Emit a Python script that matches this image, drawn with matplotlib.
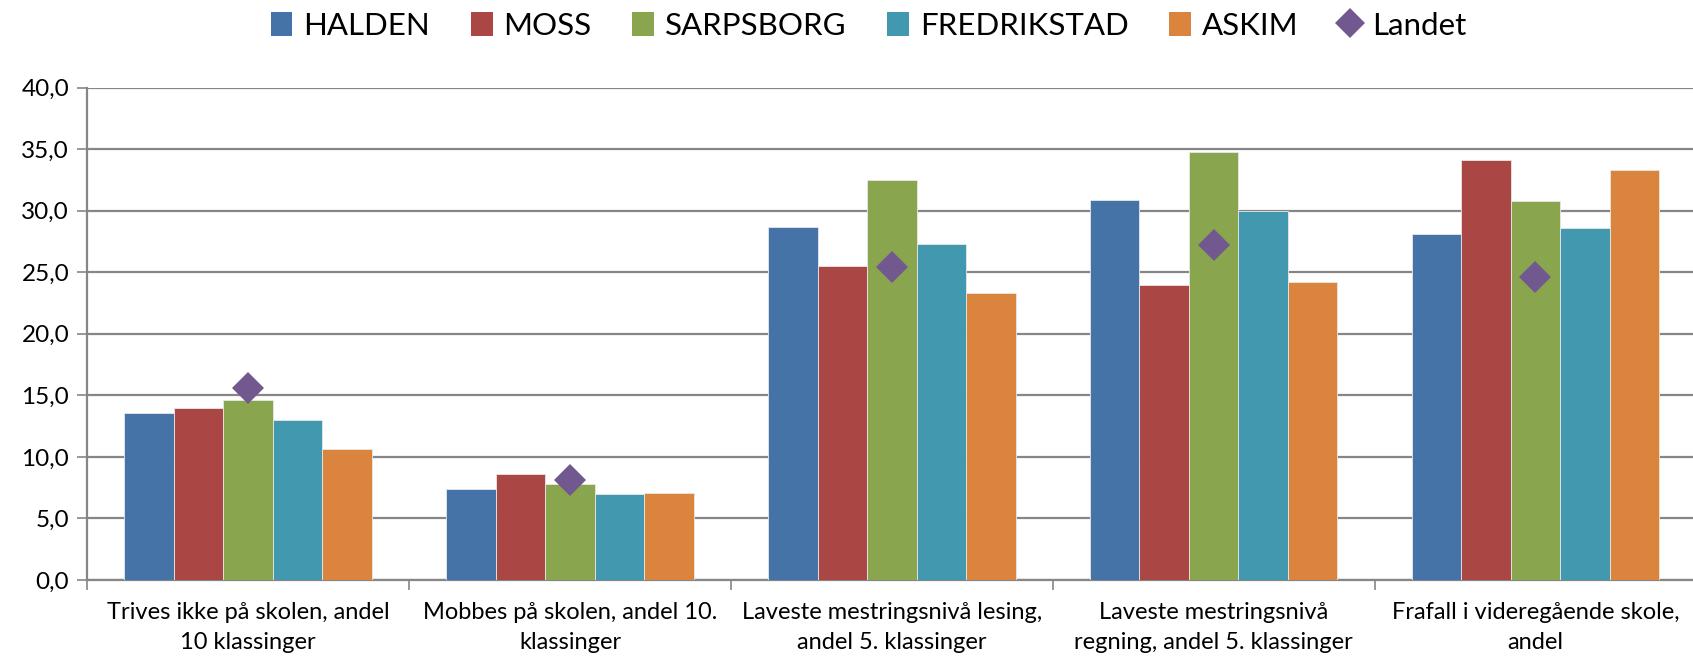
import numpy as np
import matplotlib

matplotlib.use("Agg")
import matplotlib.pyplot as plt
from matplotlib.ticker import FuncFormatter, MultipleLocator, FixedLocator
from matplotlib.patches import Patch
from matplotlib.lines import Line2D

plt.rcParams["font.family"] = ["Lato", "DejaVu Sans"]

CATEGORIES = [
    "Trives ikke på skolen, andel\n10 klassinger",
    "Mobbes på skolen, andel 10.\nklassinger",
    "Laveste mestringsnivå lesing,\nandel 5. klassinger",
    "Laveste mestringsnivå\nregning, andel 5. klassinger",
    "Frafall i videregående skole,\nandel",
]
HALDEN = [13.6, 7.4, 28.7, 30.9, 28.1]
MOSS = [14.0, 8.6, 25.5, 24.0, 34.1]
SARPSBORG = [14.6, 7.8, 32.5, 34.8, 30.8]
FREDRIKSTAD = [13.0, 7.0, 27.3, 30.0, 28.6]
ASKIM = [10.6, 7.1, 23.3, 24.2, 33.3]
LANDET = [15.6, 8.1, 25.4, 27.2, 24.6]

SERIES = [("HALDEN", HALDEN, "#4572A7"),
          ("MOSS", MOSS, "#AA4643"),
          ("SARPSBORG", SARPSBORG, "#89A54E"),
          ("FREDRIKSTAD", FREDRIKSTAD, "#4198AF"),
          ("ASKIM", ASKIM, "#DB843D")]
LANDET_COLOR = "#71588F"
GRID = "#868686"

fig = plt.figure(figsize=(16.93, 6.6), dpi=100)
ax = fig.add_axes([0.0515, 0.1212, 0.9505, 0.7462])

x = np.arange(len(CATEGORIES))
w = 1 / 6.5
for i, (name, vals, col) in enumerate(SERIES):
    ax.bar(x + (i - 2) * w, vals, width=w, color=col, edgecolor="#e8e8e8",
           linewidth=0.6, zorder=3)
ax.plot(x, LANDET, linestyle="none", marker="D", markersize=16.5,
        color=LANDET_COLOR, markeredgewidth=0, zorder=4)

ax.set_xlim(-0.5, len(CATEGORIES) - 0.5)
ax.set_ylim(0, 40)
ax.yaxis.set_major_locator(MultipleLocator(5))
ax.yaxis.set_major_formatter(FuncFormatter(lambda v, _: f"{v:.1f}".replace(".", ",")))
ax.grid(axis="y", color=GRID, linewidth=1.6, zorder=0)
ax.set_axisbelow(True)

ax.xaxis.set_major_locator(FixedLocator(np.arange(len(CATEGORIES) + 1) - 0.5))
ax.xaxis.set_major_formatter(FuncFormatter(lambda v, _: ""))
ax.xaxis.set_minor_locator(FixedLocator(x))
ax.set_xticklabels(CATEGORIES, minor=True, fontsize=17, linespacing=1.5)
ax.tick_params(axis="x", which="minor", length=0, pad=16)
ax.tick_params(axis="x", which="major", length=7, color=GRID, width=1.2)
ax.tick_params(axis="y", length=7, color=GRID, width=1.2, labelsize=17.5, pad=6)

for s in ("top", "right"):
    ax.spines[s].set_visible(False)
for s in ("left", "bottom"):
    ax.spines[s].set_color(GRID)
    ax.spines[s].set_linewidth(1.6)

handles = [Patch(facecolor=c, label=n) for n, _, c in SERIES]
handles.append(Line2D([], [], linestyle="none", marker="D", markersize=15,
                      color=LANDET_COLOR, markeredgewidth=0, label="Landet"))
fig.legend(handles=handles, loc="upper center", bbox_to_anchor=(0.513, 1.025),
           ncol=6, frameon=False, fontsize=22.5, handlelength=0.7,
           handleheight=0.8, handletextpad=0.35, columnspacing=1.3)

fig.savefig("out.png", dpi=100)
